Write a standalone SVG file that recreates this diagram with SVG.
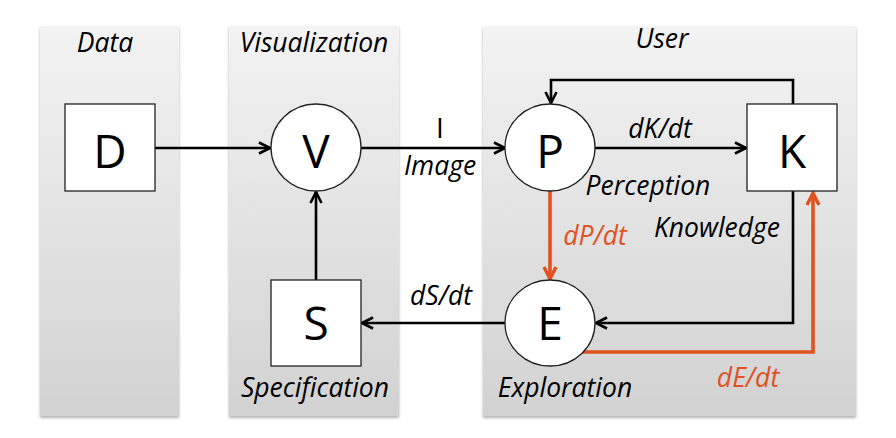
<svg xmlns="http://www.w3.org/2000/svg" width="896" height="438" viewBox="0 0 896 438">
<defs>
<linearGradient id="pg" x1="0" y1="0" x2="0" y2="1">
<stop offset="0" stop-color="#f3f3f3"/>
<stop offset="1" stop-color="#d2d2d2"/>
</linearGradient>
<filter id="sh" x="-5%" y="-5%" width="110%" height="110%">
<feGaussianBlur in="SourceAlpha" stdDeviation="1.5"/>
<feOffset dx="0" dy="1.5" result="b"/>
<feComponentTransfer><feFuncA type="linear" slope="0.3"/></feComponentTransfer>
<feMerge><feMergeNode/><feMergeNode in="SourceGraphic"/></feMerge>
</filter>
<marker id="ab" viewBox="0 0 14 14" refX="12.5" refY="7" markerWidth="14" markerHeight="14" markerUnits="userSpaceOnUse" orient="auto">
<path d="M1.5,1.5 L12.5,7 L1.5,12.5" fill="none" stroke="#000" stroke-width="2.6"/>
</marker>
<marker id="ao" viewBox="0 0 16 16" refX="14" refY="8" markerWidth="16" markerHeight="16" markerUnits="userSpaceOnUse" orient="auto">
<path d="M2,2 L14,8 L2,14" fill="none" stroke="#e0521f" stroke-width="3.4"/>
</marker>
</defs>
<style>
.panel{fill:url(#pg);filter:url(#sh)}
.node{fill:#fff;stroke:#222;stroke-width:1.3}
.big{font-family:"Open Sans","Noto Sans",sans-serif;font-size:46px;fill:#000;text-anchor:middle}
.lab{font-family:"Open Sans","Noto Sans",sans-serif;font-style:italic;font-size:26.5px;fill:#000;text-anchor:middle}
.olab{font-family:"Open Sans","Noto Sans",sans-serif;font-style:italic;font-size:26.5px;fill:#e0521f;text-anchor:middle}
.c{fill:none;stroke:#000;stroke-width:2.6}
.o{fill:none;stroke:#e0521f;stroke-width:3.6}
</style>
<g id="panels">
<rect class="panel" x="40" y="26" width="139" height="390"/>
<rect class="panel" x="229" y="26" width="170" height="390"/>
<rect class="panel" x="483" y="26" width="373" height="390"/>
<text class="lab" x="105" y="52">Data</text>
<text class="lab" x="314" y="52">Visualization</text>
<text class="lab" x="662" y="48">User</text>
</g>
<g id="connectors">
<line class="c" x1="155" y1="148" x2="270" y2="148" marker-end="url(#ab)"/>
<line class="c" x1="361" y1="148" x2="505" y2="148" marker-end="url(#ab)"/>
<line class="c" x1="595" y1="148" x2="746" y2="148" marker-end="url(#ab)"/>
<polyline class="c" points="793,104 793,80 551,80 551,103" marker-end="url(#ab)"/>
<line class="c" x1="316" y1="280" x2="316" y2="192" marker-end="url(#ab)"/>
<line class="c" x1="506" y1="323" x2="362" y2="323" marker-end="url(#ab)"/>
<polyline class="c" points="793,191 793,323 596,323" marker-end="url(#ab)"/>
<line class="o" x1="550" y1="191" x2="550" y2="279" marker-end="url(#ao)"/>
<polyline class="o" points="582,352 813,352 813,193" marker-end="url(#ao)"/>
<text class="lab" x="440" y="138" style="font-style:normal;font-size:28px">I</text>
<text class="lab" x="440" y="175">Image</text>
<text class="lab" x="660" y="138">dK/dt</text>
<text class="lab" x="441" y="305">dS/dt</text>
<text class="olab" x="595" y="245">dP/dt</text>
<text class="olab" x="748" y="387">dE/dt</text>
</g>
<g id="D"><rect class="node" x="65" y="104" width="90" height="87"/><text class="big" x="110" y="168">D</text></g>
<g id="V"><ellipse class="node" cx="316" cy="147.5" rx="45" ry="43.5"/><text class="big" x="316" y="168">V</text></g>
<g id="P"><ellipse class="node" cx="550" cy="147.5" rx="45" ry="43.5"/><text class="big" x="550" y="168">P</text>
<text class="lab" x="648" y="195">Perception</text></g>
<g id="K"><rect class="node" x="747" y="104" width="90" height="87"/><text class="big" x="792" y="168">K</text>
<text class="lab" x="717" y="237">Knowledge</text></g>
<g id="S"><rect class="node" x="271" y="280" width="90" height="86"/><text class="big" x="316" y="340">S</text>
<text class="lab" x="315" y="397">Specification</text></g>
<g id="E"><ellipse class="node" cx="550" cy="323" rx="45" ry="43"/><text class="big" x="550" y="340">E</text>
<text class="lab" x="565" y="397">Exploration</text></g>
</svg>
